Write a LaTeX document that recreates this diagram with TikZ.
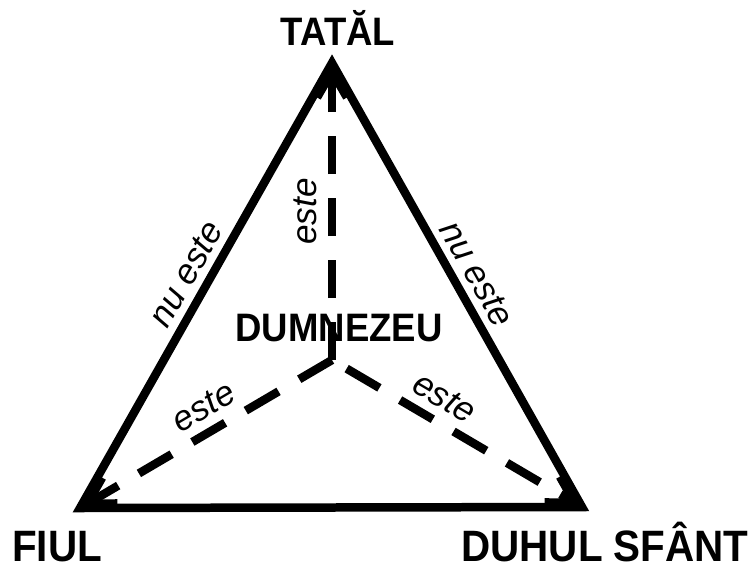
\documentclass[tikz,border=0pt]{standalone}
\usepackage{fontspec}
\setmainfont{Liberation Sans}
\newfontfamily\narrowsans[FakeStretch=0.92]{Liberation Sans}
\usetikzlibrary{arrows.meta}

\begin{document}
\begin{tikzpicture}[x=0.02cm,y=-0.02cm,
  side/.style={line width=0.17cm,line join=miter},
  link/.style={line width=0.17cm,dash pattern=on 0.76cm off 0.48cm,-{Straight Barb[angle=60:0.6cm]}},
  persona/.style={font=\narrowsans\fontsize{22.6}{26}\selectfont\bfseries,inner sep=0pt,anchor=base},
  bigpersona/.style={persona,font=\narrowsans\fontsize{25}{30}\selectfont\bfseries},
  rel/.style={font=\fontsize{20}{24}\selectfont\itshape,inner sep=0pt,sloped}]
\useasboundingbox (0,0) rectangle (753,568);
\coordinate (tatal) at (332,63);
\coordinate (fiul) at (80,508);
\coordinate (duhul) at (582,507);
\coordinate (centru) at (332,360);
% triunghiul
\draw[side] (tatal) -- (fiul) -- (duhul) -- cycle;
% legaturile cu centrul
\draw[link] (centru) -- (tatal);
\draw[link] (centru) -- (fiul);
\draw[link,dash phase=0.9cm] (centru) -- (duhul);
% nume
\node[persona] (ntatal) at (338,45) {TATĂL};
\node[bigpersona] (nfiul) at (57,561) {FIUL};
\node[bigpersona] (nduhul) at (605,561) {DUHUL SFÂNT};
\node[persona] (ndumnezeu) at (339,341) {DUMNEZEU};
% relatii
\path (fiul) -- (tatal) node[rel,pos=.5,above=0.22cm] (nu1) {nu este};
\path (tatal) -- (duhul) node[rel,pos=.5,above=0.22cm] (nu2) {nu este};
\path (centru) -- (tatal) node[rel,pos=.5,above=0.3cm] (este1) {este};
\path (fiul) -- (centru) node[rel,pos=.54,above=0.25cm] (este2) {este};
\path (centru) -- (duhul) node[rel,pos=.4,above=0.25cm] (este3) {este};
\end{tikzpicture}
\end{document}
